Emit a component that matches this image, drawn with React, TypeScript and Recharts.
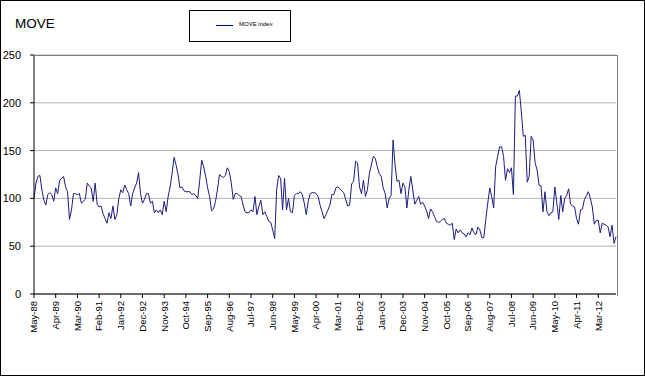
import { LineChart, Line, XAxis, YAxis, CartesianGrid } from "recharts";

// MOVE index, monthly, May-88 .. Dec-12
const move1988to1996 = [
  100, 116, 123, 124, 109, 98, 93, 104, 106, 104, 97, 111, 105, 119, 121, 123, 112, 107, 78, 88,
  105, 105, 104, 105, 95, 97, 99, 116, 113, 111, 97, 116, 94, 91, 92, 84, 79, 74, 85, 79,
  92, 78, 83, 100, 109, 106, 114, 109, 105, 92, 105, 111, 116, 127, 105, 95, 99, 105, 105, 95,
  97, 85, 88, 85, 88, 83, 97, 86, 102, 112, 126, 143, 135, 125, 111, 112, 108, 107, 107, 107,
  104, 105, 103, 100, 119, 140, 133, 123, 111, 102, 87, 89, 97, 109, 125,
];
const move1996to2004 = [
  123, 122, 124, 132, 128, 116, 99, 105, 105, 103, 102, 93, 86, 85, 85, 88, 86, 102, 83, 92,
  98, 83, 86, 81, 76, 75, 67, 58, 109, 124, 121, 88, 121, 88, 100, 86, 85, 103, 105, 105,
  107, 104, 95, 83, 97, 105, 106, 106, 105, 102, 93, 86, 79, 83, 88, 93, 104, 104, 111, 112,
  110, 108, 106, 99, 92, 93, 115, 118, 139, 137, 112, 105, 119, 102, 109, 126, 135, 144, 142, 133,
  126, 123, 111, 105, 90, 100, 103, 161, 135, 118, 119, 105, 116, 112, 90, 109,
];
const move2004to2012 = [
  123, 109, 94, 98, 102, 94, 96, 92, 87, 79, 89, 86, 81, 76, 75, 76, 78, 79, 74, 73,
  72, 74, 57, 68, 64, 67, 64, 63, 60, 64, 62, 69, 64, 62, 70, 67, 59, 59, 78, 95,
  111, 102, 90, 133, 144, 154, 154, 144, 119, 131, 127, 132, 104, 207, 207, 213, 191, 165, 166, 117,
  123, 165, 161, 137, 130, 114, 113, 86, 107, 86, 82, 85, 86, 112, 95, 78, 103, 86, 100, 103,
  110, 94, 92, 91, 79, 73, 88, 89, 99, 103, 107, 100, 91, 73, 77, 77, 64, 74, 73, 72,
  70, 60, 72, 53, 60,
];

const moveValues = [...move1988to1996, ...move1996to2004, ...move2004to2012];

const monthNames = ["Jan", "Feb", "Mar", "Apr", "May", "Jun", "Jul", "Aug", "Sep", "Oct", "Nov", "Dec"];
const startYear = 1988;
const startMonth = 4; // May

const yTicks = [0, 50, 100, 150, 200, 250];

const data = moveValues.map((v, i) => {
  const m = startMonth + i;
  const yy = String((startYear + Math.floor(m / 12)) % 100).padStart(2, "0");
  return { month: `${monthNames[m % 12]}-${yy}`, move: v };
});

const MonthTick = (props: any) => {
  const { x, y, payload } = props;
  return (
    <text
      x={x}
      y={y}
      transform={`rotate(-90 ${x} ${y})`}
      textAnchor="end"
      dy="0.35em"
      fontSize={9.5}
      fill="#000"
    >
      {payload.value}
    </text>
  );
};

export default function App() {
  return (
    <div
      style={{
        position: "absolute",
        left: 0,
        top: 0,
        width: 645,
        height: 376,
        boxSizing: "border-box",
        border: "1px solid #000",
        background: "#fff",
        fontFamily: "Arial, 'Liberation Sans', sans-serif",
      }}
    >
      <div style={{ position: "absolute", left: 14, top: 15, fontSize: 13.5 }}>MOVE</div>
      <div
        style={{
          position: "absolute",
          left: 188,
          top: 9,
          width: 102,
          height: 32,
          boxSizing: "border-box",
          border: "1px solid #000",
        }}
      >
        <div style={{ position: "absolute", left: 26, top: 14, width: 17, borderTop: "1px solid #000080" }} />
        <div style={{ position: "absolute", left: 49, top: 10, fontSize: 6, whiteSpace: "nowrap" }}>MOVE index</div>
      </div>
      <div style={{ position: "absolute", left: -1, top: -1 }}>
        <LineChart width={645} height={376} data={data} margin={{ top: 55, right: 29, bottom: 42, left: 0 }}>
          <CartesianGrid vertical={false} stroke="#b3b3b3" />
          <XAxis
            dataKey="month"
            interval={10}
            height={40}
            tickSize={4}
            tickMargin={3}
            tick={<MonthTick />}
            axisLine={{ stroke: "#000" }}
            tickLine={{ stroke: "#000" }}
          />
          <YAxis
            width={34}
            domain={[0, 250]}
            ticks={yTicks}
            tickSize={4}
            tickMargin={9}
            tick={{ fontSize: 11, fill: "#000" }}
            axisLine={{ stroke: "#000" }}
            tickLine={{ stroke: "#000" }}
          />
          <Line
            type="linear"
            dataKey="move"
            stroke="#1c1c80"
            strokeWidth={1}
            dot={false}
            isAnimationActive={false}
          />
        </LineChart>
      </div>
      <div
        style={{
          position: "absolute",
          left: 33,
          top: 54,
          width: 583,
          height: 240,
          borderTop: "1px solid #808080",
          borderRight: "1px solid #808080",
          pointerEvents: "none",
        }}
      />
    </div>
  );
}
